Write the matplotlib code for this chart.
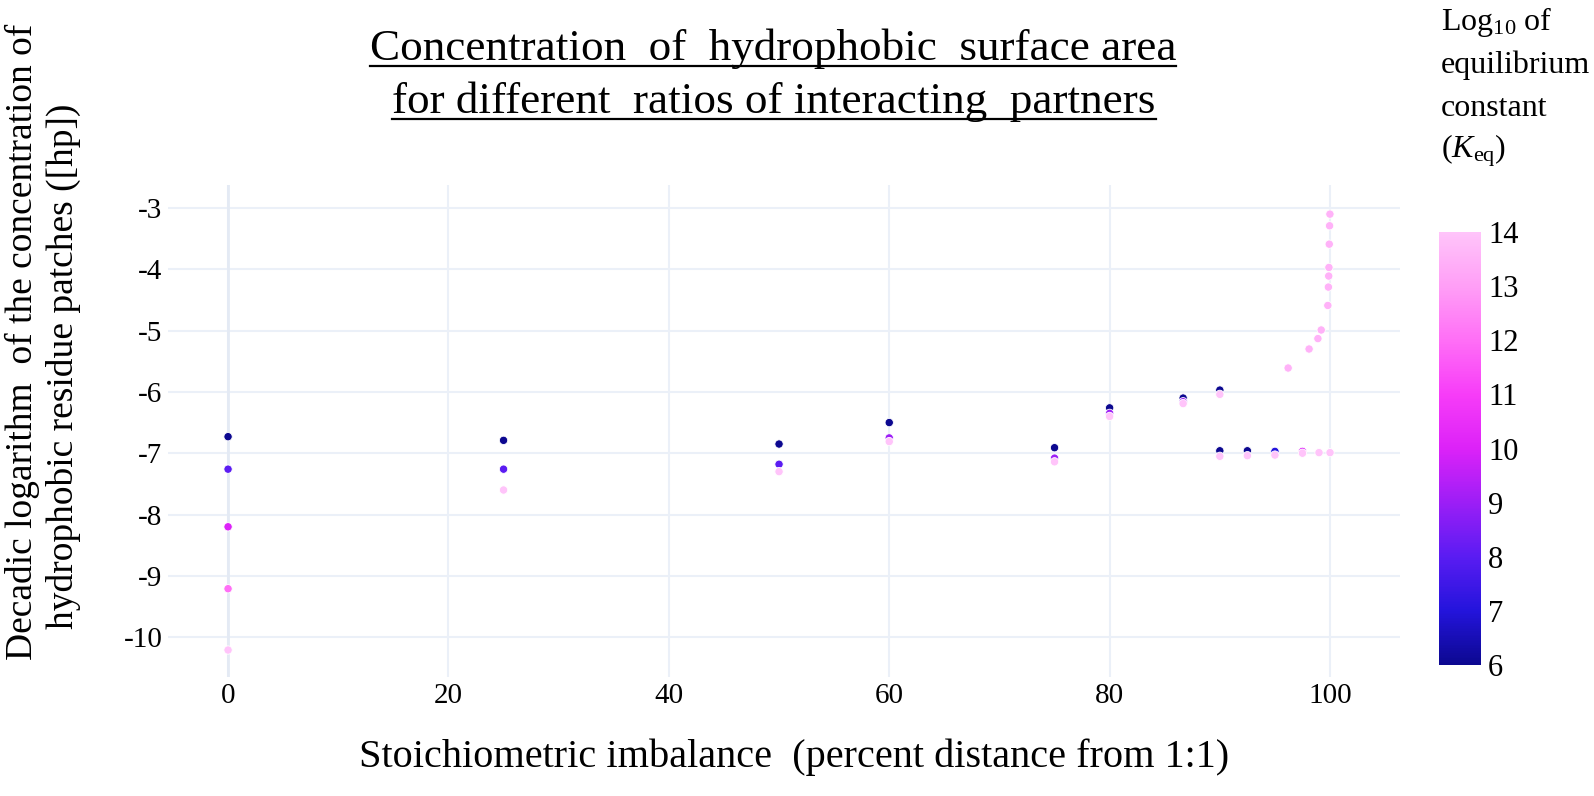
import matplotlib
matplotlib.use("Agg")
import matplotlib.pyplot as plt
from matplotlib.colors import LinearSegmentedColormap, Normalize
from matplotlib.lines import Line2D

plt.rcParams['font.family'] = ['Liberation Serif', 'DejaVu Serif']
plt.rcParams['mathtext.fontset'] = 'custom'
plt.rcParams['mathtext.rm'] = 'Liberation Serif'
plt.rcParams['mathtext.it'] = 'Liberation Serif:italic'

# stoichiometric imbalance (%), log10 [hp], log10 Keq
stoich = [0, 0, 0, 0, 0,
          25, 25, 25,
          50, 50, 50,
          60, 60, 60,
          75, 75, 75,
          80, 80, 80,
          86.67, 86.67, 86.67,
          90, 90,
          90, 90, 92.5, 92.5, 95, 95, 97.5, 97.5, 99, 100,
          96.2, 98.1, 98.9, 99.2, 99.8, 99.85, 99.88, 99.9, 99.93, 99.96, 99.99]
log_hp = [-6.73, -7.26, -8.20, -9.21, -10.21,
          -6.79, -7.26, -7.60,
          -6.85, -7.18, -7.30,
          -6.50, -6.75, -6.81,
          -6.91, -7.08, -7.14,
          -6.26, -6.35, -6.40,
          -6.10, -6.16, -6.19,
          -5.97, -6.04,
          -6.96, -7.05, -6.96, -7.04, -6.97, -7.03, -6.97, -7.00, -6.99, -6.99,
          -5.61, -5.30, -5.13, -4.99, -4.59, -4.29, -4.11, -3.97, -3.59, -3.29, -3.10]
log_keq = [6, 8, 10, 12, 14,
           6, 8, 14,
           6, 8, 14,
           6, 9, 14,
           6, 9, 14,
           6, 9, 14,
           6, 9, 14,
           6, 14,
           6, 14, 6, 14, 7, 14, 10, 14, 14, 14,
           13.5, 13.5, 13.5, 13.5, 13.5, 13.5, 13.5, 13.5, 13.5, 13.5, 13.5]

y_ticks = [-3, -4, -5, -6, -7, -8, -9, -10]
x_ticks = [0, 20, 40, 60, 80, 100]
cbar_ticks = [6, 7, 8, 9, 10, 11, 12, 13, 14]

cmap = LinearSegmentedColormap.from_list("keq", [
    (0.0, '#0c0890'), (0.125, '#2414dc'), (0.25, '#5a1cf2'),
    (0.375, '#9c1ef6'), (0.5, '#dc22f8'), (0.625, '#f73cf8'),
    (0.75, '#ff6ef6'), (0.875, '#ff9ef6'), (1.0, '#ffc4fa')])
norm = Normalize(6, 14)

W, H = 1594, 796
fig = plt.figure(figsize=(W / 100, H / 100), dpi=100)
ax = fig.add_axes([168 / W, 1 - 677 / H, (1400 - 168) / W, (677 - 185) / H])

# draw in order of Keq so the pink ones end up on top
order = sorted(range(len(stoich)), key=lambda i: log_keq[i])
ax.scatter([stoich[i] for i in order], [log_hp[i] for i in order],
           c=[log_keq[i] for i in order], cmap=cmap, norm=norm,
           s=36, edgecolors='white', linewidths=0.6, zorder=3)

ax.set_xlim(-5.45, 106.35)
ax.set_ylim(-10.65, -2.625)
ax.set_xticks(x_ticks)
ax.set_yticks(y_ticks)
ax.set_yticklabels([str(t) for t in y_ticks])
ax.grid(True, color='#ebf0f8', linewidth=1.5)
ax.axvline(0, color='#e4eaf4', linewidth=2, zorder=1)
ax.set_axisbelow(True)
for s in ax.spines.values():
    s.set_visible(False)
ax.tick_params(length=0, labelsize=21, pad=4, colors='black')

# colourbar
cax = fig.add_axes([1439 / W, 1 - 665 / H, 42 / W, (665 - 232) / H])
cb = fig.colorbar(plt.cm.ScalarMappable(norm=norm, cmap=cmap), cax=cax, ticks=cbar_ticks)
cb.outline.set_visible(False)
cax.tick_params(length=0, labelsize=22, pad=5)

cb_title = ["Log$_{10}$ of", "equilibrium", "constant", "($K_{\\rm eq}$)"]
for k, line in enumerate(cb_title):
    fig.text(1441 / W, 1 - (22 + 43 * k) / H, line, fontsize=23,
             ha='left', va='center')

# titles / labels
t1 = fig.text(773 / W, 1 - 49 / H, "Concentration  of  hydrophobic  surface area",
              fontsize=32.5, ha='center', va='center')
t2 = fig.text(774 / W, 1 - 102 / H, "for different  ratios of interacting  partners",
              fontsize=32.5, ha='center', va='center')
fig.text(794 / W, 1 - 757 / H, "Stoichiometric imbalance  (percent distance from 1:1)",
         fontsize=29, ha='center', va='center')
fig.text(22 / W, 1 - 342 / H, "Decadic logarithm  of the concentration of",
         fontsize=27, ha='center', va='center', rotation=90)
fig.text(63 / W, 1 - 366 / H, "hydrophobic residue patches ([hp])",
         fontsize=27, ha='center', va='center', rotation=90)

# underline the title lines
fig.canvas.draw()
r = fig.canvas.get_renderer()
for t in (t1, t2):
    bb = t.get_window_extent(r)
    yy = bb.y0 + 3
    fig.add_artist(Line2D([bb.x0 / W, bb.x1 / W], [yy / H, yy / H],
                          color='black', linewidth=1.6))

fig.savefig("out.png", dpi=100)
